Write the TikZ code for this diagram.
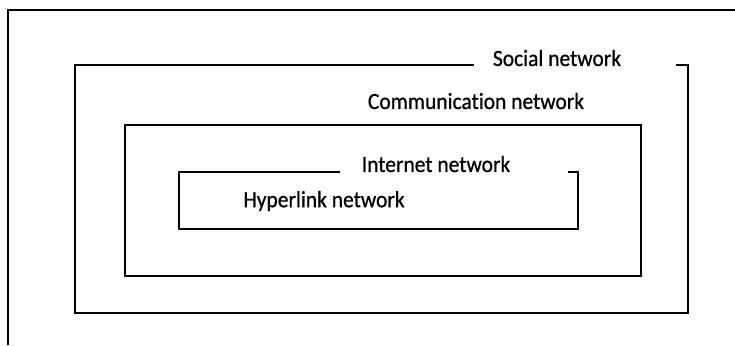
\documentclass[tikz,border=0pt]{standalone}
\usepackage{fontspec}
\setmainfont{Carlito}[Ligatures=NoCommon, FakeBold=0.8]
\begin{document}
\begin{tikzpicture}[x=1pt,y=-1pt,
  box/.style={line width=2.2pt, line join=miter},
  frame/.style={line width=1.3pt},
  lbl/.style={font=\fontsize{21.5}{24}\selectfont, inner sep=0pt, anchor=center, yscale=1.08}]
\useasboundingbox (0,0) rectangle (735,345);
% outer frame
\coordinate (f1) at (8,345);
\coordinate (f2) at (8,10);
\coordinate (f3) at (735,10);
\draw[frame] (f1) -- (f2) -- (f3);
% social network box
\coordinate (s1) at (474,65);
\coordinate (s2) at (75,65);
\coordinate (s3) at (75,313);
\coordinate (s4) at (688,313);
\coordinate (s5) at (688,65);
\coordinate (s6) at (676,65);
\draw[box] (s1) -- (s2) -- (s3) -- (s4) -- (s5) -- (s6);
% communication box
\coordinate (c1) at (125,125);
\coordinate (c2) at (641,276);
\draw[box] (c1) rectangle (c2);
% internet box
\coordinate (i1) at (340,172);
\coordinate (i2) at (179,172);
\coordinate (i3) at (179,229);
\coordinate (i4) at (578,229);
\coordinate (i5) at (578,172);
\coordinate (i6) at (568,172);
\draw[box] (i1) -- (i2) -- (i3) -- (i4) -- (i5) -- (i6);
% labels
\node[lbl] (social) at (557,58) {Social network};
\node[lbl] (comm) at (476,101) {Communication network};
\node[lbl] (inet) at (436,164) {Internet network};
\node[lbl] (hyper) at (324,201) {Hyperlink network};
\end{tikzpicture}
\end{document}
